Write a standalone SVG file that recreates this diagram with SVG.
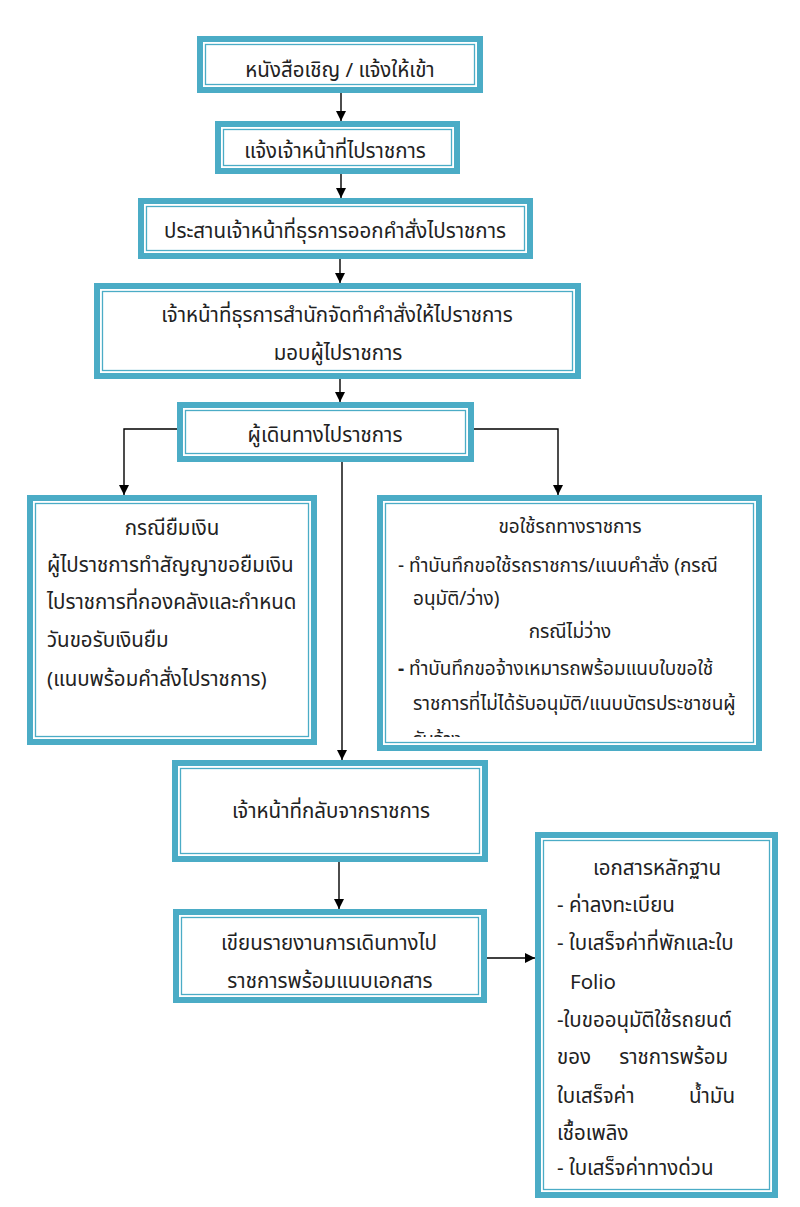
<svg xmlns="http://www.w3.org/2000/svg" width="800" height="1207" viewBox="0 0 800 1207">
<defs>
<style>
.ob{fill:#fff;stroke:#4BACC6;stroke-width:6}
.ib{fill:none;stroke:#4BACC6;stroke-width:1.3}
.t{font-family:Tahoma,"Noto Sans Thai","Noto Sans","DejaVu Sans",sans-serif;font-size:20.5px;fill:#222}
.c{text-anchor:middle}
.s{font-size:19px}
.e{stroke:#000;stroke-width:1.4;fill:none}
</style>
<marker id="ah" markerUnits="userSpaceOnUse" markerWidth="10" markerHeight="10" refX="10" refY="5" orient="auto" viewBox="0 0 10 10">
<path d="M0,0 L10,5 L0,10 z" fill="#000"/>
</marker>
<clipPath id="rclip"><rect x="386" y="504" width="368" height="233"/></clipPath>
</defs>

<g id="connectors">
<line class="e" x1="341" y1="93" x2="341" y2="121" marker-end="url(#ah)"/>
<line class="e" x1="341" y1="174" x2="341" y2="198" marker-end="url(#ah)"/>
<line class="e" x1="340" y1="259" x2="340" y2="283" marker-end="url(#ah)"/>
<line class="e" x1="340" y1="379" x2="340" y2="402" marker-end="url(#ah)"/>
<polyline class="e" points="177,429 124,429 124,495" marker-end="url(#ah)"/>
<polyline class="e" points="474,429 558,429 558,495" marker-end="url(#ah)"/>
<line class="e" x1="342" y1="462" x2="342" y2="760" marker-end="url(#ah)"/>
<line class="e" x1="339" y1="862" x2="339" y2="909" marker-end="url(#ah)"/>
<line class="e" x1="487" y1="958" x2="535" y2="958" marker-end="url(#ah)"/>
</g>

<g id="n1">
<rect class="ob" x="200" y="39" width="280" height="51"/>
<rect class="ib" x="205.5" y="44.5" width="269" height="40"/>
<text class="t c" x="340" y="77">หนังสือเชิญ / แจ้งให้เข้า</text>
</g>

<g id="n2">
<rect class="ob" x="218" y="124" width="239" height="47"/>
<rect class="ib" x="223.5" y="129.5" width="228" height="36"/>
<text class="t c" x="335" y="158">แจ้งเจ้าหน้าที่ไปราชการ</text>
</g>

<g id="n3">
<rect class="ob" x="141" y="201" width="389" height="55"/>
<rect class="ib" x="146.5" y="206.5" width="378" height="44"/>
<text class="t c" x="335" y="238">ประสานเจ้าหน้าที่ธุรการออกคำสั่งไปราชการ</text>
</g>

<g id="n4">
<rect class="ob" x="97" y="286" width="481" height="90"/>
<rect class="ib" x="102.5" y="291.5" width="470" height="79"/>
<text class="t c" x="337" y="322">เจ้าหน้าที่ธุรการสำนักจัดทำคำสั่งให้ไปราชการ</text>
<text class="t c" x="338" y="360">มอบผู้ไปราชการ</text>
</g>

<g id="n5">
<rect class="ob" x="180" y="405" width="291" height="54"/>
<rect class="ib" x="185.5" y="410.5" width="280" height="43"/>
<text class="t c" x="325" y="442">ผู้เดินทางไปราชการ</text>
</g>

<g id="n6">
<rect class="ob" x="30" y="498" width="284" height="244"/>
<rect class="ib" x="35.5" y="503.5" width="273" height="233"/>
<text class="t c" x="172" y="535">กรณียืมเงิน</text>
<text class="t" x="47" y="572">ผู้ไปราชการทำสัญญาขอยืมเงิน</text>
<text class="t" x="47" y="609">ไปราชการที่กองคลังและกำหนด</text>
<text class="t" x="47" y="647">วันขอรับเงินยืม</text>
<text class="t" x="47" y="686">(แนบพร้อมคำสั่งไปราชการ)</text>
</g>

<g id="n7">
<rect class="ob" x="380" y="498" width="379" height="250"/>
<rect class="ib" x="385.5" y="503.5" width="368" height="239"/>
<g clip-path="url(#rclip)">
<text class="t c s" x="570" y="533">ขอใช้รถทางราชการ</text>
<text class="t s" x="398" y="572">- ทำบันทึกขอใช้รถราชการ/แนบคำสั่ง (กรณี</text>
<text class="t s" x="413" y="605">อนุมัติ/ว่าง)</text>
<text class="t c s" x="570" y="638">กรณีไม่ว่าง</text>
<text class="t s" x="398" y="675"><tspan font-weight="bold">-</tspan> ทำบันทึกขอจ้างเหมารถพร้อมแนบใบขอใช้</text>
<text class="t s" x="413" y="710">ราชการที่ไม่ได้รับอนุมัติ/แนบบัตรประชาชนผู้</text>
<text class="t s" x="413" y="746">รับจ้าง</text>
</g>
</g>

<g id="n8">
<rect class="ob" x="175" y="763" width="310" height="96"/>
<rect class="ib" x="180.5" y="768.5" width="299" height="85"/>
<text class="t c" x="331" y="818">เจ้าหน้าที่กลับจากราชการ</text>
</g>

<g id="n9">
<rect class="ob" x="176" y="912" width="308" height="88"/>
<rect class="ib" x="181.5" y="917.5" width="297" height="77"/>
<text class="t c" x="329" y="950">เขียนรายงานการเดินทางไป</text>
<text class="t c" x="330" y="988">ราชการพร้อมแนบเอกสาร</text>
</g>

<g id="n10">
<rect class="ob" x="538" y="835" width="237" height="360"/>
<rect class="ib" x="543.5" y="840.5" width="226" height="349"/>
<text class="t c" x="657" y="875">เอกสารหลักฐาน</text>
<text class="t" x="557" y="912">- ค่าลงทะเบียน</text>
<text class="t" x="557" y="950">- ใบเสร็จค่าที่พักและใบ</text>
<text class="t" x="570" y="989" font-family="Lato,sans-serif">Folio</text>
<text class="t" x="557" y="1027">-ใบขออนุมัติใช้รถยนต์</text>
<text class="t" x="557" y="1064">ของ</text>
<text class="t" x="728" y="1064" text-anchor="end">ราชการพร้อม</text>
<text class="t" x="557" y="1103">ใบเสร็จค่า</text>
<text class="t" x="735" y="1103" text-anchor="end">น้ำมัน</text>
<text class="t" x="557" y="1140">เชื้อเพลิง</text>
<text class="t" x="557" y="1175">- ใบเสร็จค่าทางด่วน</text>
</g>
</svg>
